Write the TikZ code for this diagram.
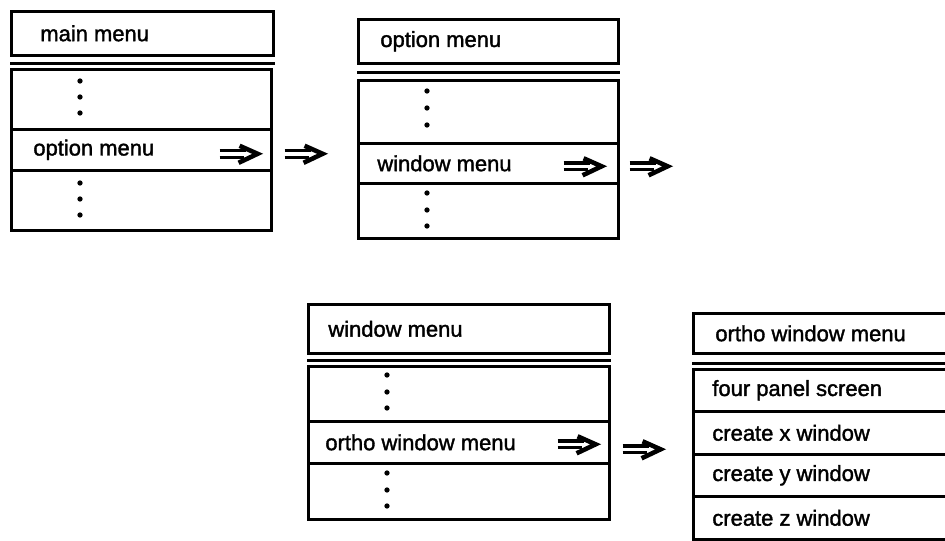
\documentclass[tikz,border=0pt]{standalone}
\usepackage{fontspec}
\setmainfont{Liberation Sans}[FakeBold=1.6]
\usetikzlibrary{positioning}
\tikzset{
  cell/.style    = {draw, line width=1.5pt, anchor=north west, inner sep=0pt,
                    minimum width=#1},
  item/.style    = {inner sep=0pt, anchor=west, font=\fontsize{12.5}{15}\selectfont},
  sep/.style     = {line width=1.8pt},
  menudot/.style = {fill=black},
  implies/.pic   = {
    \draw[line width=1.9pt] (-38,-3.4) -- (-12,-3.4) (-38,3.4) -- (-14,3.4);
    \draw[line width=2.6pt, line join=miter] (-18,-8) -- (0,0) -- (-19,9);
  },
}

\begin{document}
\begin{tikzpicture}[x=0.02cm, y=-0.02cm]
  \path[use as bounding box, clip] (0,0) rectangle (945,540);

  % main menu
  \node[cell=5.24cm, minimum height=0.88cm] (a0) at (10,10) {};
  \node[item, right=0.6cm of a0.west] (a0t) {main menu};
  \draw[sep] ([yshift=-0.14cm]a0.south west) -- ([yshift=-0.14cm]a0.south east);
  \node[cell=5.2cm, minimum height=1.2cm]  (a1) at (10,68)  {};
  \node[cell=5.2cm, minimum height=0.82cm] (a2) at (10,128) {};
  \node[cell=5.2cm, minimum height=1.2cm]  (a3) at (10,169) {};
  \node[item, right=0.46cm of a2.west] (a2t) {option menu};
  \foreach \y in {81,97,113,183,199,215} \fill[menudot] (80,\y) circle (1.5pt);
  \pic at ([xshift=-0.3cm, yshift=-0.08cm]a2.east) {implies};
  \pic at ([xshift=1.0cm, yshift=-0.08cm]a2.east) {implies};

  % option menu
  \node[cell=5.2cm, minimum height=0.88cm] (b0) at (357,18) {};
  \node[item, right=0.46cm of b0.west] (b0t) {option menu};
  \draw[sep] ([yshift=-0.16cm]b0.south west) -- ([yshift=-0.16cm]b0.south east);
  \node[cell=5.2cm, minimum height=1.26cm] (b1) at (357,79)  {};
  \node[cell=5.2cm, minimum height=0.8cm]  (b2) at (357,142) {};
  \node[cell=5.2cm, minimum height=1.1cm]  (b3) at (357,182) {};
  \node[item, right=0.4cm of b2.west] (b2t) {window menu};
  \foreach \y in {91,108,125,193,210,226} \fill[menudot] (427,\y) circle (1.5pt);
  \pic at ([xshift=-0.36cm, yshift=-0.06cm]b2.east) {implies};
  \pic at ([xshift=0.96cm, yshift=-0.06cm]b2.east) {implies};

  % window menu
  \node[cell=6.02cm, minimum height=0.98cm] (c0) at (307,303) {};
  \node[item, right=0.42cm of c0.west] (c0t) {window menu};
  \draw[sep] ([yshift=-0.12cm]c0.south west) -- ([yshift=-0.12cm]c0.south east);
  \node[cell=6.02cm, minimum height=1.1cm]  (c1) at (307,365) {};
  \node[cell=6.02cm, minimum height=0.84cm] (c2) at (307,420) {};
  \node[cell=6.02cm, minimum height=1.12cm] (c3) at (307,462) {};
  \node[item, right=0.36cm of c2.west] (c2t) {ortho window menu};
  \foreach \y in {375,392,408,473,490,506} \fill[menudot] (387,\y) circle (1.5pt);
  \pic at ([xshift=-0.3cm, yshift=-0.04cm]c2.east) {implies};
  \pic at ([xshift=1.0cm, yshift=-0.14cm]c2.east) {implies};

  % ortho window menu
  \node[cell=5.3cm, minimum height=0.8cm] (d0) at (692,312) {};
  \node[item, right=0.46cm of d0.west] (d0t) {ortho window menu};
  \draw[sep] ([yshift=-0.18cm]d0.south west) -- ([yshift=-0.18cm]d0.south east);
  \node[cell=5.3cm, minimum height=0.84cm] (d1) at (692,368) {};
  \node[cell=5.3cm, minimum height=0.86cm] (d2) at (692,410) {};
  \node[cell=5.3cm, minimum height=0.84cm] (d3) at (692,453) {};
  \node[cell=5.3cm, minimum height=0.86cm] (d4) at (692,495) {};
  \node[item, right=0.4cm of d1.west] (d1t) {four panel screen};
  \node[item, right=0.4cm of d2.west] (d2t) {create x window};
  \node[item, right=0.4cm of d3.west] (d3t) {create y window};
  \node[item, right=0.4cm of d4.west] (d4t) {create z window};

\end{tikzpicture}
\end{document}
